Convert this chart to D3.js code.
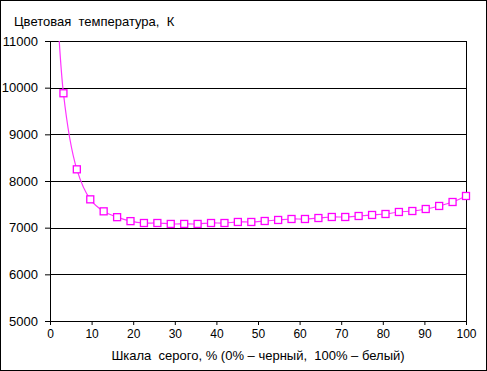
<!DOCTYPE html>
<html>
<head>
<meta charset="utf-8">
<title>Цветовая температура</title>
<script src="https://cdn.jsdelivr.net/npm/d3@7"></script>
<style>
  body { margin: 0; background: #fff; }
  text { font-family: "Liberation Sans", Arial, sans-serif; fill: #000; }
  .tick text { font-size: 12px; }
  .yax .tick text { font-size: 13px; }
</style>
</head>
<body>
<script>
// grey level, % (first point sits off the top of the chart)
var grey = [0, 3.23, 6.45, 9.68, 12.9, 16.13, 19.35, 22.58, 25.81, 29.03, 32.26,
            35.48, 38.71, 41.94, 45.16, 48.39, 51.61, 54.84, 58.06, 61.29, 64.52,
            67.74, 70.97, 74.19, 77.42, 80.65, 83.87, 87.1, 90.32, 93.55, 96.77, 100];
// colour temperature, K
var temp = [15400, 9880, 8250, 7607, 7350, 7225, 7140, 7100, 7100, 7080, 7080,
            7080, 7100, 7100, 7122, 7122, 7143, 7165, 7186, 7186, 7207,
            7229, 7229, 7250, 7272, 7293, 7336, 7357, 7400, 7465, 7550, 7679];
var xTicks = [0, 10, 20, 30, 40, 50, 60, 70, 80, 90, 100];
var yTicks = [5000, 6000, 7000, 8000, 9000, 10000, 11000];

var W = 487, H = 371;
var margin = {top: 41, right: 21, bottom: 50, left: 50};
var w = W - margin.left - margin.right,
    h = H - margin.top - margin.bottom;

var svg = d3.select("body").append("svg")
    .attr("width", W)
    .attr("height", H);

// outer frame
svg.append("rect")
    .attr("x", 0.5).attr("y", 0.5)
    .attr("width", W - 1).attr("height", H - 1)
    .attr("fill", "#fff").attr("stroke", "#000");

var g = svg.append("g")
    .attr("transform", "translate(" + margin.left + "," + margin.top + ")");

var x = d3.scaleLinear().domain([0, 100]).range([0, w]);
var y = d3.scaleLinear().domain([5000, 11000]).range([h, 0]);

// gridlines
g.append("g").selectAll("line")
    .data(yTicks)
  .enter().append("line")
    .attr("x1", 0).attr("x2", w)
    .attr("y1", function(d) { return Math.round(y(d)) + 0.5; })
    .attr("y2", function(d) { return Math.round(y(d)) + 0.5; })
    .attr("stroke", "#000");

// right border of plot area
g.append("line")
    .attr("x1", w + 0.5).attr("x2", w + 0.5)
    .attr("y1", 0).attr("y2", h)
    .attr("stroke", "#000");

// axes
var yAxis = g.append("g")
    .attr("class", "yax")
    .call(d3.axisLeft(y).tickValues(yTicks).tickSize(5).tickPadding(7).tickFormat(d3.format("d")));
var xAxis = g.append("g")
    .attr("transform", "translate(0," + h + ")")
    .call(d3.axisBottom(x).tickValues(xTicks).tickSize(4).tickPadding(4));
g.selectAll(".domain").attr("stroke", "#000");
g.selectAll(".tick line").attr("stroke", "#000");
g.selectAll(".tick text").attr("fill", "#000");

// clip for the curve
g.append("clipPath").attr("id", "clip")
  .append("rect").attr("x", -5).attr("y", 0).attr("width", w + 10).attr("height", h);

var line = d3.line()
    .x(function(d, i) { return x(grey[i]); })
    .y(function(d) { return y(d); })
    .curve(d3.curveCatmullRom.alpha(0.5));

g.append("path")
    .datum(temp)
    .attr("clip-path", "url(#clip)")
    .attr("d", line)
    .attr("fill", "none")
    .attr("stroke", "#ff33ff")
    .attr("stroke-width", 1.2);

// markers (skip ones outside the plot)
var pts = temp.map(function(d, i) { return {x: grey[i], v: d}; })
    .filter(function(d) { return d.v <= 11000; });
g.selectAll(".mk")
    .data(pts)
  .enter().append("rect")
    .attr("class", "mk")
    .attr("x", function(d) { return x(d.x) - 3.5; })
    .attr("y", function(d) { return y(d.v) - 3.5; })
    .attr("width", 7).attr("height", 7)
    .attr("fill", "#fff")
    .attr("stroke", "#ff00ff")
    .attr("stroke-width", 1.3);

// titles
svg.append("text")
    .attr("x", 14).attr("y", 26)
    .attr("font-size", 13)
    .style("white-space", "pre")
    .text("Цветовая  температура,  К");

svg.append("text")
    .attr("x", margin.left + w / 2).attr("y", 360)
    .attr("text-anchor", "middle")
    .attr("font-size", 13)
    .style("white-space", "pre")
    .text("Шкала  серого, % (0% – черный,  100% – белый)");
</script>
</body>
</html>
